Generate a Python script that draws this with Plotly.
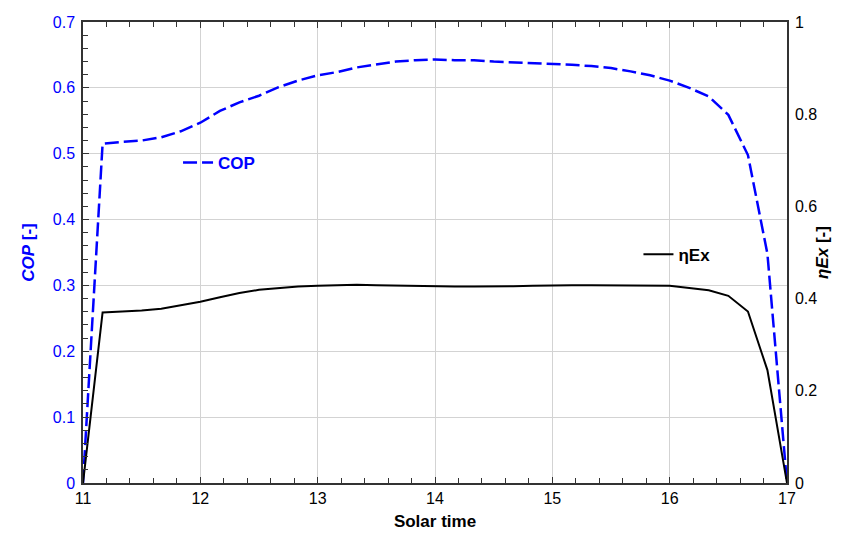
import plotly.graph_objects as go

# Solar time (h), 10-minute steps
solar_time = [11.0, 11.167, 11.333, 11.5, 11.667, 11.833, 12.0, 12.167, 12.333, 12.5,
              12.667, 12.833, 13.0, 13.167, 13.333, 13.5, 13.667, 13.833, 14.0, 14.167,
              14.333, 14.5, 14.667, 14.833, 15.0, 15.167, 15.333, 15.5, 15.667, 15.833,
              16.0, 16.167, 16.333, 16.5, 16.667, 16.833, 17.0]

cop = [0.0, 0.515, 0.518, 0.520, 0.525, 0.534, 0.547, 0.565, 0.578, 0.588,
       0.601, 0.611, 0.619, 0.624, 0.631, 0.636, 0.640, 0.642, 0.643, 0.642,
       0.642, 0.640, 0.639, 0.638, 0.637, 0.635, 0.633, 0.630, 0.625, 0.619,
       0.611, 0.600, 0.587, 0.559, 0.498, 0.348, 0.0]

eta_ex = [0.0, 0.370, 0.372, 0.374, 0.378, 0.385, 0.393, 0.403, 0.412, 0.419,
          0.423, 0.426, 0.428, 0.429, 0.430, 0.429, 0.428, 0.428, 0.427, 0.426,
          0.426, 0.426, 0.427, 0.428, 0.429, 0.429, 0.429, 0.429, 0.429, 0.429,
          0.428, 0.423, 0.418, 0.406, 0.372, 0.245, 0.0]

BLUE = "#0000ff"
FONT = "Liberation Sans, Arial, sans-serif"

fig = go.Figure()
fig.add_trace(go.Scatter(
    x=solar_time, y=cop, mode="lines", name="<b>COP</b>",
    line=dict(color=BLUE, width=2.5, dash="14px,5px"),
    legend="legend", yaxis="y"))
fig.add_trace(go.Scatter(
    x=solar_time, y=eta_ex, mode="lines", name="<b>ηEx</b>",
    line=dict(color="black", width=2),
    legend="legend2", yaxis="y2"))

# page body has an 8px margin, so the figure is drawn 8px smaller
fig.update_layout(
    width=847, height=525,
    margin=dict(l=74.5, r=67.5, t=14, b=50, autoexpand=False),
    plot_bgcolor="white", paper_bgcolor="white",
    font=dict(family=FONT, size=16, color="black"),
    showlegend=True,
    legend=dict(x=0.135, y=0.694, xanchor="left", yanchor="middle",
                bgcolor="rgba(0,0,0,0)", font=dict(size=17, color=BLUE, family=FONT)),
    legend2=dict(x=0.789, y=0.495, xanchor="left", yanchor="middle",
                 bgcolor="rgba(0,0,0,0)", font=dict(size=17, color="black", family=FONT)),
    xaxis=dict(
        range=[11, 17], dtick=1, tick0=11, automargin=False,
        showgrid=True, gridcolor="#d3d3d3", gridwidth=1,
        showline=True, linecolor="#333333", linewidth=1.5, mirror="ticks",
        ticks="inside", ticklen=6, tickcolor="#333333",
        minor=dict(dtick=0.2, ticks="inside", ticklen=5, tickcolor="#333333", showgrid=False),
        zeroline=False,
        tickfont=dict(size=16, color="black"),
        title=dict(text="<b>Solar time</b>", font=dict(size=17, color="black"), standoff=9),
    ),
    yaxis=dict(
        range=[0, 0.7], dtick=0.1, tick0=0, automargin=False,
        showgrid=True, gridcolor="#d3d3d3", gridwidth=1,
        showline=True, linecolor="#333333", linewidth=1.5,
        ticks="inside", ticklen=6, tickcolor="#333333",
        minor=dict(dtick=0.02, ticks="inside", ticklen=5, tickcolor="#333333", showgrid=False),
        zeroline=False, ticklabelstandoff=3,
        tickfont=dict(size=16, color=BLUE),
        title=dict(text="<b><i>COP</i> [-]</b>", font=dict(size=17, color=BLUE), standoff=14),
    ),
    yaxis2=dict(
        range=[0, 1], dtick=0.2, tick0=0, overlaying="y", side="right", automargin=False,
        showgrid=False, showline=True, linecolor="#333333", linewidth=1.5,
        ticks="", zeroline=False, ticklabelstandoff=3,
        tickfont=dict(size=16, color="black"),
        title=dict(text="<b><i>ηEx</i> [-]</b>", font=dict(size=17, color="black"), standoff=0),
    ),
)

fig.write_html("out.html")
